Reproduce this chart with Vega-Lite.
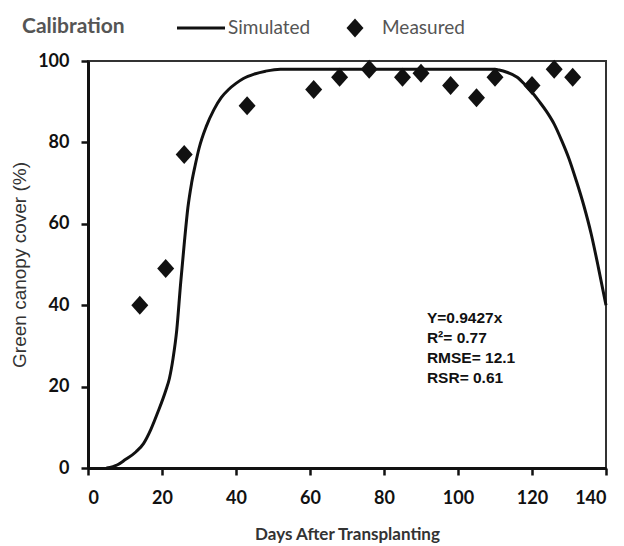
{
  "$schema": "https://vega.github.io/schema/vega-lite/v6.json",
  "width": 518,
  "height": 407,
  "autosize": "none",
  "padding": {"left": 88, "top": 61, "right": 18, "bottom": 78},
  "background": "white",
  "datasets": {
    "simulated": [
      {"day": 5, "cover": 0}, {"day": 8, "cover": 0.8}, {"day": 10, "cover": 2}, {"day": 13, "cover": 4},
      {"day": 15, "cover": 6}, {"day": 17, "cover": 9.5}, {"day": 19, "cover": 14}, {"day": 21, "cover": 19},
      {"day": 22, "cover": 22}, {"day": 23, "cover": 27}, {"day": 24, "cover": 34}, {"day": 25, "cover": 45},
      {"day": 26, "cover": 55}, {"day": 27, "cover": 64}, {"day": 28, "cover": 70}, {"day": 29, "cover": 74.5},
      {"day": 30, "cover": 78.5}, {"day": 32, "cover": 84}, {"day": 34, "cover": 88}, {"day": 36, "cover": 91},
      {"day": 38, "cover": 93}, {"day": 40, "cover": 94.5}, {"day": 42, "cover": 95.7}, {"day": 45, "cover": 96.8},
      {"day": 48, "cover": 97.5}, {"day": 52, "cover": 98}, {"day": 110, "cover": 98}, {"day": 111, "cover": 97.8},
      {"day": 113, "cover": 97.3}, {"day": 116, "cover": 96}, {"day": 118, "cover": 94.3}, {"day": 120, "cover": 92.3},
      {"day": 122, "cover": 90}, {"day": 124, "cover": 87.5}, {"day": 126, "cover": 84.5}, {"day": 128, "cover": 80.5},
      {"day": 130, "cover": 76}, {"day": 132, "cover": 70.5}, {"day": 134, "cover": 64.5}, {"day": 136, "cover": 57.5},
      {"day": 138, "cover": 49}, {"day": 140, "cover": 40}
    ],
    "measured": [
      {"day": 14, "cover": 40}, {"day": 21, "cover": 49}, {"day": 26, "cover": 77}, {"day": 43, "cover": 89},
      {"day": 61, "cover": 93}, {"day": 68, "cover": 96}, {"day": 76, "cover": 98}, {"day": 85, "cover": 96},
      {"day": 90, "cover": 97}, {"day": 98, "cover": 94}, {"day": 105, "cover": 91}, {"day": 110, "cover": 96},
      {"day": 120, "cover": 94}, {"day": 126, "cover": 98}, {"day": 131, "cover": 96}
    ],
    "stats": [
      {"label": ["Y=0.9427x", "R²= 0.77", "RMSE= 12.1", "RSR= 0.61"], "day": 91.6, "cover": 38.6}
    ]
  },
  "layer": [
    {
      "data": {"name": "simulated"},
      "mark": {"type": "line", "color": "#111", "strokeWidth": 3, "interpolate": "monotone"},
      "encoding": {
        "x": {"field": "day", "type": "quantitative", "scale": {"domain": [0, 140], "nice": false},
          "axis": {"title": "Days After Transplanting", "values": [0, 20, 40, 60, 80, 100, 120, 140]}},
        "y": {"field": "cover", "type": "quantitative", "scale": {"domain": [0, 100], "nice": false},
          "axis": {"title": "Green canopy cover (%)", "values": [0, 20, 40, 60, 80, 100]}}
      }
    },
    {
      "data": {"name": "measured"},
      "mark": {"type": "point", "filled": true, "color": "#111", "opacity": 1, "size": 2304},
      "encoding": {
        "x": {"field": "day", "type": "quantitative"},
        "y": {"field": "cover", "type": "quantitative"},
        "shape": {
          "datum": "Measured",
          "scale": {
            "domain": ["Simulated", "Measured"],
            "range": ["M-1,-0.065H1V0.065H-1Z", "M0,-0.396L0.354,0L0,0.396L-0.354,0Z"]
          },
          "legend": {
            "title": "Calibration",
            "orient": "none",
            "legendX": -66,
            "legendY": -57,
            "direction": "horizontal",
            "titleOrient": "left",
            "titleAnchor": "middle",
            "titleFont": "Lato",
            "titleFontSize": 21,
            "titleFontWeight": "bold",
            "titleColor": "#555",
            "titlePadding": 52,
            "titleBaseline": "line-top",
            "titleLineHeight": 12,
            "symbolSize": 2304,
            "symbolFillColor": "#111",
            "symbolStrokeWidth": 0,
            "symbolOpacity": 1,
            "labelFont": "Lato",
            "labelFontSize": 19,
            "labelColor": "#555",
            "labelOffset": 3,
            "columnPadding": 20
          }
        }
      }
    },
    {
      "data": {"name": "stats"},
      "mark": {"type": "text", "align": "left", "baseline": "top", "font": "Liberation Sans Narrow, Liberation Sans", "fontWeight": "bold", "fontSize": 15.5, "lineHeight": 20, "color": "#111"},
      "encoding": {
        "x": {"field": "day", "type": "quantitative"},
        "y": {"field": "cover", "type": "quantitative"},
        "text": {"field": "label"}
      }
    }
  ],
  "config": {
    "view": {"stroke": "#333", "strokeWidth": 2},
    "axis": {
      "grid": false,
      "domainColor": "#111",
      "domainWidth": 3,
      "tickColor": "#111",
      "tickWidth": 2.5,
      "tickSize": 7,
      "labelFont": "Lato",
      "labelFontWeight": "bold",
      "labelFontSize": 18,
      "labelColor": "#111",
      "titleColor": "#333"
    },
    "axisX": {
      "labelPadding": 14,
      "titleFont": "Lato",
      "titleFontWeight": "bold",
      "titleFontSize": 17,
      "titlePadding": 19
    },
    "axisY": {
      "labelPadding": 12,
      "titleFont": "Liberation Sans",
      "titleFontWeight": "normal",
      "titleFontSize": 19,
      "titlePadding": 8
    }
  }
}
